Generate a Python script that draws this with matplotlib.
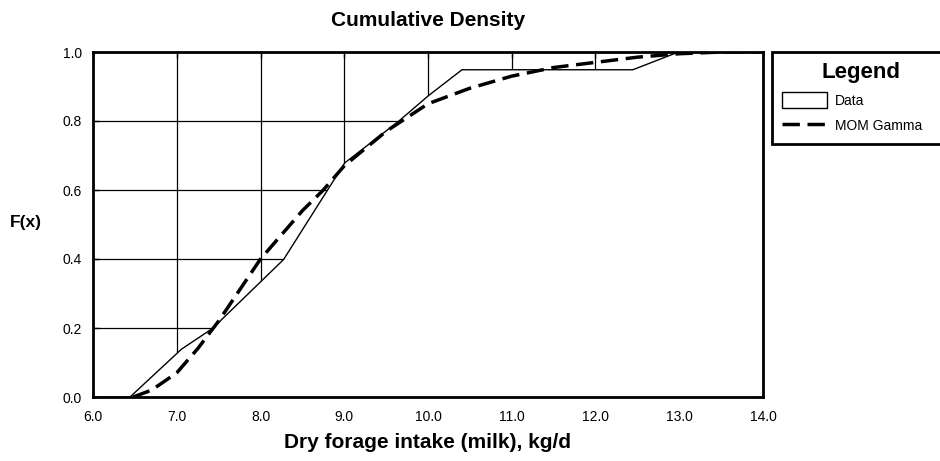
import matplotlib
matplotlib.use("Agg")
from matplotlib import pyplot as plt

plt.rcParams["font.family"] = ["Liberation Sans", "DejaVu Sans"]

# interpolated empirical CDF of the data
data_x = [6.0, 6.43, 7.05, 7.42, 8.27, 9.0, 9.64, 10.0, 10.4, 12.44, 12.97, 14.0]
data_f = [0.0, 0.0, 0.14, 0.20, 0.40, 0.68, 0.80, 0.875, 0.95, 0.95, 1.0, 1.0]

# fitted gamma CDF (method of moments)
gam_x = [6.48, 6.7, 7.0, 7.25, 7.5, 7.75, 8.0, 8.25, 8.5, 8.75, 9.0, 9.25, 9.5,
         9.75, 10.0, 10.5, 11.0, 11.5, 12.0, 12.5, 13.0, 13.5, 14.0]
gam_f = [0.0, 0.02, 0.07, 0.14, 0.22, 0.31, 0.40, 0.47, 0.54, 0.60, 0.67, 0.72, 0.77,
         0.81, 0.85, 0.895, 0.93, 0.955, 0.97, 0.985, 0.995, 1.0, 1.0]

x_ticks = [6, 7, 8, 9, 10, 11, 12, 13, 14]
y_ticks = [0.0, 0.2, 0.4, 0.6, 0.8, 1.0]

fig = plt.figure(figsize=(9.4, 4.61), dpi=100)
ax = fig.add_axes([93 / 940, 1 - 397 / 461, 670 / 940, 345 / 461])

ax.set_xlim(6, 14)
ax.set_ylim(0, 1)
ax.set_xticks(x_ticks)
ax.set_xticklabels(["%.1f" % v for v in x_ticks])
ax.set_yticks(y_ticks)
ax.set_yticklabels(["%.1f" % v for v in y_ticks])
ax.tick_params(direction="in", length=4, width=1, labelsize=10, top=True, right=True)
ax.tick_params(axis="x", pad=9)
ax.tick_params(axis="y", pad=8)
ax.grid(True, color="black", linewidth=0.9, zorder=0)
ax.set_axisbelow(True)
for s in ax.spines.values():
    s.set_linewidth(2)

ax.fill_between(data_x, data_f, 0, facecolor="white", edgecolor="black", linewidth=1,
                zorder=2, label="Data")
ax.plot(gam_x, gam_f, color="black", linestyle=(0, (5, 2.2)), linewidth=2.5, zorder=3,
        label="MOM Gamma")

fig.text(428 / 940, 1 - 20 / 461, "Cumulative Density", ha="center", va="center",
         fontsize=15, fontweight="bold")
fig.text(428 / 940, 1 - 442 / 461, "Dry forage intake (milk), kg/d", ha="center", va="center",
         fontsize=15, fontweight="bold")
fig.text(26 / 940, 1 - 222 / 461, "F(x)", ha="center", va="center",
         fontsize=12.5, fontweight="bold")

# legend box runs past the right edge of the picture, as in the original
leg = fig.legend(loc="upper left", bbox_to_anchor=(772 / 940, 1 - 143 / 461, 178 / 940, 91 / 461),
                 mode="expand", title="Legend", fontsize=10, fancybox=False, frameon=True,
                 framealpha=1, handlelength=3.2, handleheight=1.4, handletextpad=0.6,
                 borderpad=0.75, labelspacing=0.65, borderaxespad=0)
leg.get_title().set_fontweight("bold")
leg.get_title().set_fontsize(16)
leg.get_frame().set_edgecolor("black")
leg.get_frame().set_linewidth(2)

fig.savefig("out.png", dpi=100)
